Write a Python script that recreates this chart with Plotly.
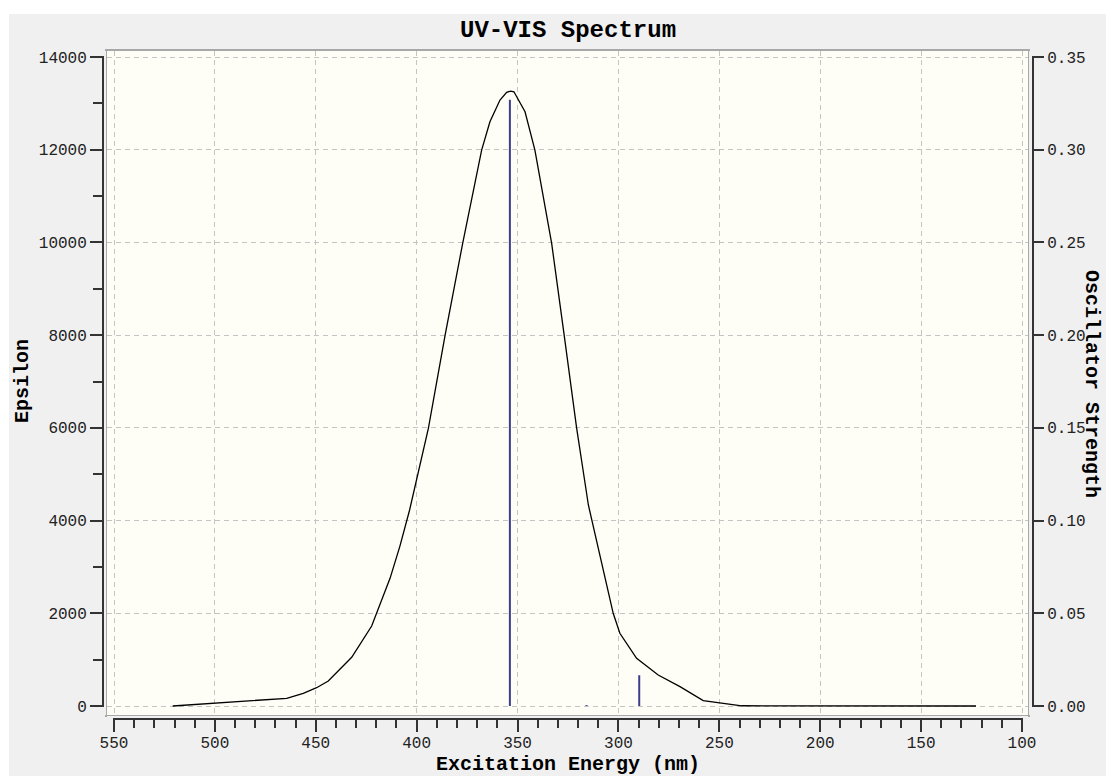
import plotly.graph_objects as go

# ---------------- data ----------------
spec_nm = [520.9, 500.8, 482.6, 471.0, 464.4, 456.2, 449.6, 443.8, 432.2, 422.3,
           413.2, 408.3, 403.5, 394.2, 385.9, 377.2, 367.8, 363.7, 358.7, 355.4,
           353.4, 351.8, 346.3, 341.4, 333.1, 326.9, 320.7, 314.9, 302.6, 299.3,
           291.0, 280.3, 269.5, 258.0, 249.7, 238.9, 122.8]
spec_eps = [0, 58, 108, 144, 166, 274, 395, 539, 1050, 1726,
            2754, 3450, 4228, 5990, 8002, 9980, 11993, 12603, 13071, 13238,
            13265, 13250, 12819, 11993, 9980, 8002, 5990, 4336, 2000, 1568,
            1029, 669, 417, 115, 72, 5, 0]

stick_nm = [353.8, 315.8, 289.7]
stick_f = [0.327, 0.0005, 0.0166]

x_ticks = [550, 500, 450, 400, 350, 300, 250, 200, 150, 100]
x_minor = [v for v in range(100, 551, 10) if v % 50]
eps_ticks = [0, 2000, 4000, 6000, 8000, 10000, 12000, 14000]
eps_minor = [1000, 3000, 5000, 7000, 9000, 11000, 13000]
f_ticks = [0.00, 0.05, 0.10, 0.15, 0.20, 0.25, 0.30, 0.35]
f_labels = ["0.00", "0.05", "0.10", "0.15", "0.20", "0.25", "0.30", "0.35"]

EPS_PER_F = eps_ticks[-1] / f_ticks[-1]

# ---------------- geometry / style ----------------
W, H = 1106, 776
ML, MR, MT, MB = 107, 78, 51, 61
PW, PH = W - ML - MR, H - MT - MB

XR = [553.47, 97.03]
YR = [-194.1, 14129.4]
Y2R = [YR[0] / EPS_PER_F, YR[1] / EPS_PER_F]

BG = "#f0f0f0"
PLOT_BG = "#fefef6"
AXC = "#333333"
FONT = "Liberation Mono, Courier New, monospace"


def px_x(p):
    return (p - ML) / PW


def px_y(p):
    return (H - MB - p) / PH


# ---------------- traces ----------------
stick_x, stick_y = [], []
for n, f in zip(stick_nm, stick_f):
    stick_x += [n, n, None]
    stick_y += [0, f, None]

fig = go.Figure()
fig.add_trace(go.Scatter(x=spec_nm, y=spec_eps, mode="lines",
                         line=dict(color="black", width=1.3),
                         hoverinfo="skip", showlegend=False))
fig.add_trace(go.Scatter(x=stick_x, y=stick_y, mode="lines", yaxis="y2",
                         line=dict(color="#3d3d8f", width=2),
                         hoverinfo="skip", showlegend=False))

tickfont = dict(family=FONT, size=16, color="#222222")
grid = dict(showgrid=True, gridcolor="#c4c4c4", gridwidth=1, griddash="5px,4px")
box = dict(showline=True, linecolor="#a8a8a8", linewidth=2, mirror=True, zeroline=False)

fig.update_layout(
    width=W, height=H,
    margin=dict(l=ML, r=MR, t=MT, b=MB, pad=0),
    paper_bgcolor=BG, plot_bgcolor=PLOT_BG,
    xaxis=dict(range=XR, tickmode="array", tickvals=x_ticks,
               ticktext=[str(v) for v in x_ticks],
               ticks="outside", ticklen=15, tickwidth=2, tickcolor=AXC,
               ticklabelstandoff=-3,
               minor=dict(tickmode="array", tickvals=x_minor, ticks="outside",
                          ticklen=11, tickwidth=2, tickcolor=AXC, showgrid=False),
               tickfont=tickfont, **grid, **box),
    yaxis=dict(range=YR, tickmode="array", tickvals=eps_ticks,
               ticktext=[str(v) for v in eps_ticks],
               ticks="outside", ticklen=15, tickwidth=2, tickcolor=AXC,
               minor=dict(tickmode="array", tickvals=eps_minor, ticks="outside",
                          ticklen=12, tickwidth=2, tickcolor=AXC, showgrid=False),
               tickfont=tickfont, **grid, **box),
    yaxis2=dict(range=Y2R, overlaying="y", side="right", tickmode="array",
                tickvals=f_ticks, ticktext=f_labels,
                ticks="outside", ticklen=15, tickwidth=2, tickcolor=AXC,
                showgrid=False, zeroline=False, showline=False,
                tickfont=tickfont),
    showlegend=False,
)

shapes = []
# white strips at top and left of the window
shapes.append(dict(type="rect", xref="paper", yref="paper", layer="below",
                   x0=px_x(0), x1=px_x(W), y0=px_y(14), y1=px_y(0),
                   fillcolor="white", line=dict(width=0)))
shapes.append(dict(type="rect", xref="paper", yref="paper", layer="below",
                   x0=px_x(0), x1=px_x(9), y0=px_y(H), y1=px_y(0),
                   fillcolor="white", line=dict(width=0)))
# gaps between the plot frame and the axis lines
for x0, x1, y0, y1 in [(104, 106, MT, H - MB), (1029, 1032, MT, H - MB),
                       (ML, W - MR, 716, 718)]:
    shapes.append(dict(type="rect", xref="paper", yref="paper", layer="above",
                       x0=px_x(x0), x1=px_x(x1), y0=px_y(y1), y1=px_y(y0),
                       fillcolor=BG, line=dict(width=0)))
# axis lines, offset from the frame, spanning the tick range
shapes.append(dict(type="line", xref="paper", yref="y", layer="above",
                   x0=px_x(103), x1=px_x(103), y0=eps_ticks[0], y1=eps_ticks[-1],
                   line=dict(color=AXC, width=2)))
shapes.append(dict(type="line", xref="paper", yref="y2", layer="above",
                   x0=px_x(1033), x1=px_x(1033), y0=f_ticks[0], y1=f_ticks[-1],
                   line=dict(color=AXC, width=2)))
shapes.append(dict(type="line", xref="x", yref="paper", layer="above",
                   x0=x_ticks[0], x1=x_ticks[-1], y0=px_y(719), y1=px_y(719),
                   line=dict(color=AXC, width=2)))
fig.update_layout(shapes=shapes)

title_font = dict(family=FONT, size=20, color="black", weight="bold")
fig.update_layout(annotations=[
    dict(text="UV-VIS Spectrum", xref="paper", yref="paper", x=0.5, y=px_y(30),
         xanchor="center", yanchor="middle", showarrow=False,
         font=dict(family=FONT, size=24, color="black", weight="bold")),
    dict(text="Excitation Energy (nm)", xref="paper", yref="paper", x=0.5, y=px_y(764),
         xanchor="center", yanchor="middle", showarrow=False, font=title_font),
    dict(text="Epsilon", xref="paper", yref="paper", x=px_x(22), y=px_y(381),
         xanchor="center", yanchor="middle", showarrow=False, textangle=-90,
         font=title_font),
    dict(text="Oscillator Strength", xref="paper", yref="paper", x=px_x(1092), y=px_y(384),
         xanchor="center", yanchor="middle", showarrow=False, textangle=90,
         font=title_font),
])

fig.write_html("out.html")
